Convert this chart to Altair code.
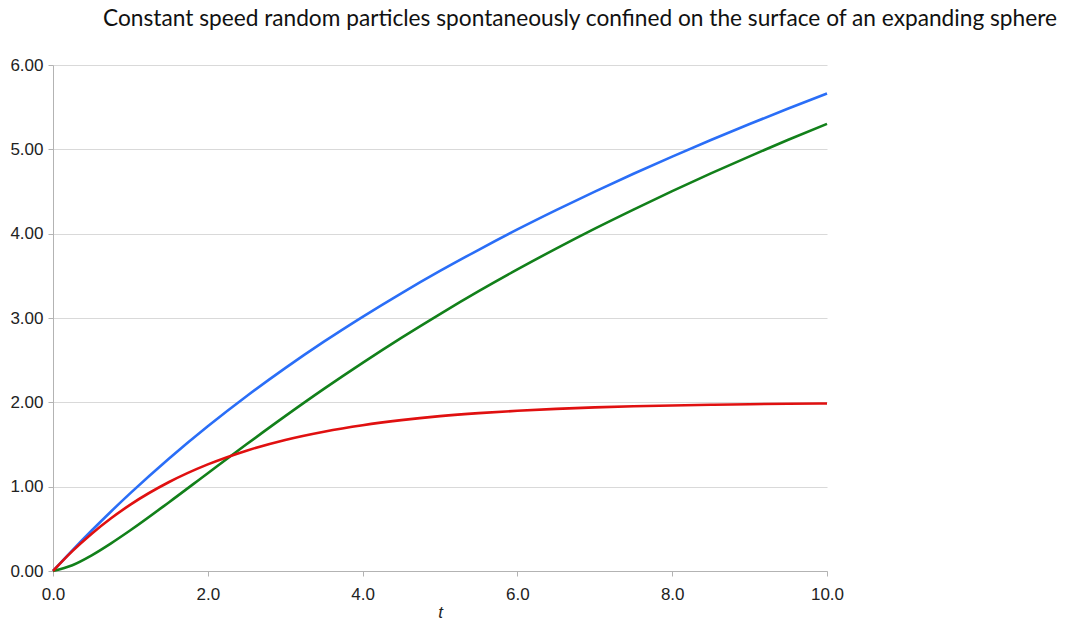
import altair as alt
import pandas as pd

t_vals = [0, 0.25, 0.5, 0.75, 1, 1.5, 2, 2.5, 3, 3.5, 4, 4.5, 5, 5.5, 6, 6.5, 7, 7.5, 8, 8.5, 9, 9.5, 10]
blue_vals = [0, 0.245, 0.480, 0.706, 0.923, 1.334, 1.716, 2.072, 2.405, 2.719, 3.014, 3.293, 3.558, 3.809,
             4.050, 4.279, 4.499, 4.710, 4.914, 5.110, 5.300, 5.484, 5.662]
green_vals = [0, 0.069, 0.186, 0.328, 0.483, 0.816, 1.160, 1.502, 1.836, 2.159, 2.468, 2.764, 3.047, 3.318,
              3.576, 3.823, 4.060, 4.286, 4.505, 4.715, 4.917, 5.113, 5.302]
red_vals = [0, 0.235, 0.442, 0.625, 0.787, 1.055, 1.264, 1.427, 1.554, 1.652, 1.729, 1.789, 1.836, 1.872,
            1.900, 1.922, 1.940, 1.953, 1.963, 1.971, 1.978, 1.983, 1.987]
series_names = ["blue", "green", "red"]
series_colors = ["#2a6ef7", "#12801a", "#e01010"]

rows = []
for name, vals in zip(series_names, [blue_vals, green_vals, red_vals]):
    for t, v in zip(t_vals, vals):
        rows.append({"t": t, "v": v, "s": name})
df = pd.DataFrame(rows)

chart = alt.Chart(df).mark_line(strokeWidth=2.6, interpolate="monotone").encode(
    x=alt.X("t:Q", scale=alt.Scale(domain=[0, 10], nice=False),
            axis=alt.Axis(values=[0, 2, 4, 6, 8, 10], format=".1f", title="t",
                          grid=False, titleFontStyle="italic", titleFontWeight="normal",
                          titleFont="Liberation Sans", titleFontSize=17, titleColor="#222",
                          titlePadding=2, labelFlush=False)),
    y=alt.Y("v:Q", scale=alt.Scale(domain=[0, 6], nice=False),
            axis=alt.Axis(values=[0, 1, 2, 3, 4, 5, 6], format=".2f", title=None,
                          grid=True, gridColor="#d9d9d9", labelPadding=5, labelFlush=False)),
    color=alt.Color("s:N", scale=alt.Scale(domain=series_names, range=series_colors), legend=None),
).properties(
    width=774, height=506,
    title=alt.TitleParams("Constant speed random particles spontaneously confined on the surface of an expanding sphere",
                          font="Lato", fontSize=22.7, fontWeight="normal", color="#111",
                          anchor="middle", dx=140, offset=25),
    autosize=alt.AutoSizeParams(type="none"),
    padding={"left": 53, "top": 65, "right": 240, "bottom": 57},
).configure_axis(
    labelFont="Liberation Sans", labelFontSize=17, labelColor="#222",
    domainColor="#b3b3b3", tickColor="#b3b3b3", tickSize=5,
).configure_axisX(labelPadding=10).configure_view(stroke=None)

chart.save("out.html", embed_options={"renderer": "svg", "actions": False})
